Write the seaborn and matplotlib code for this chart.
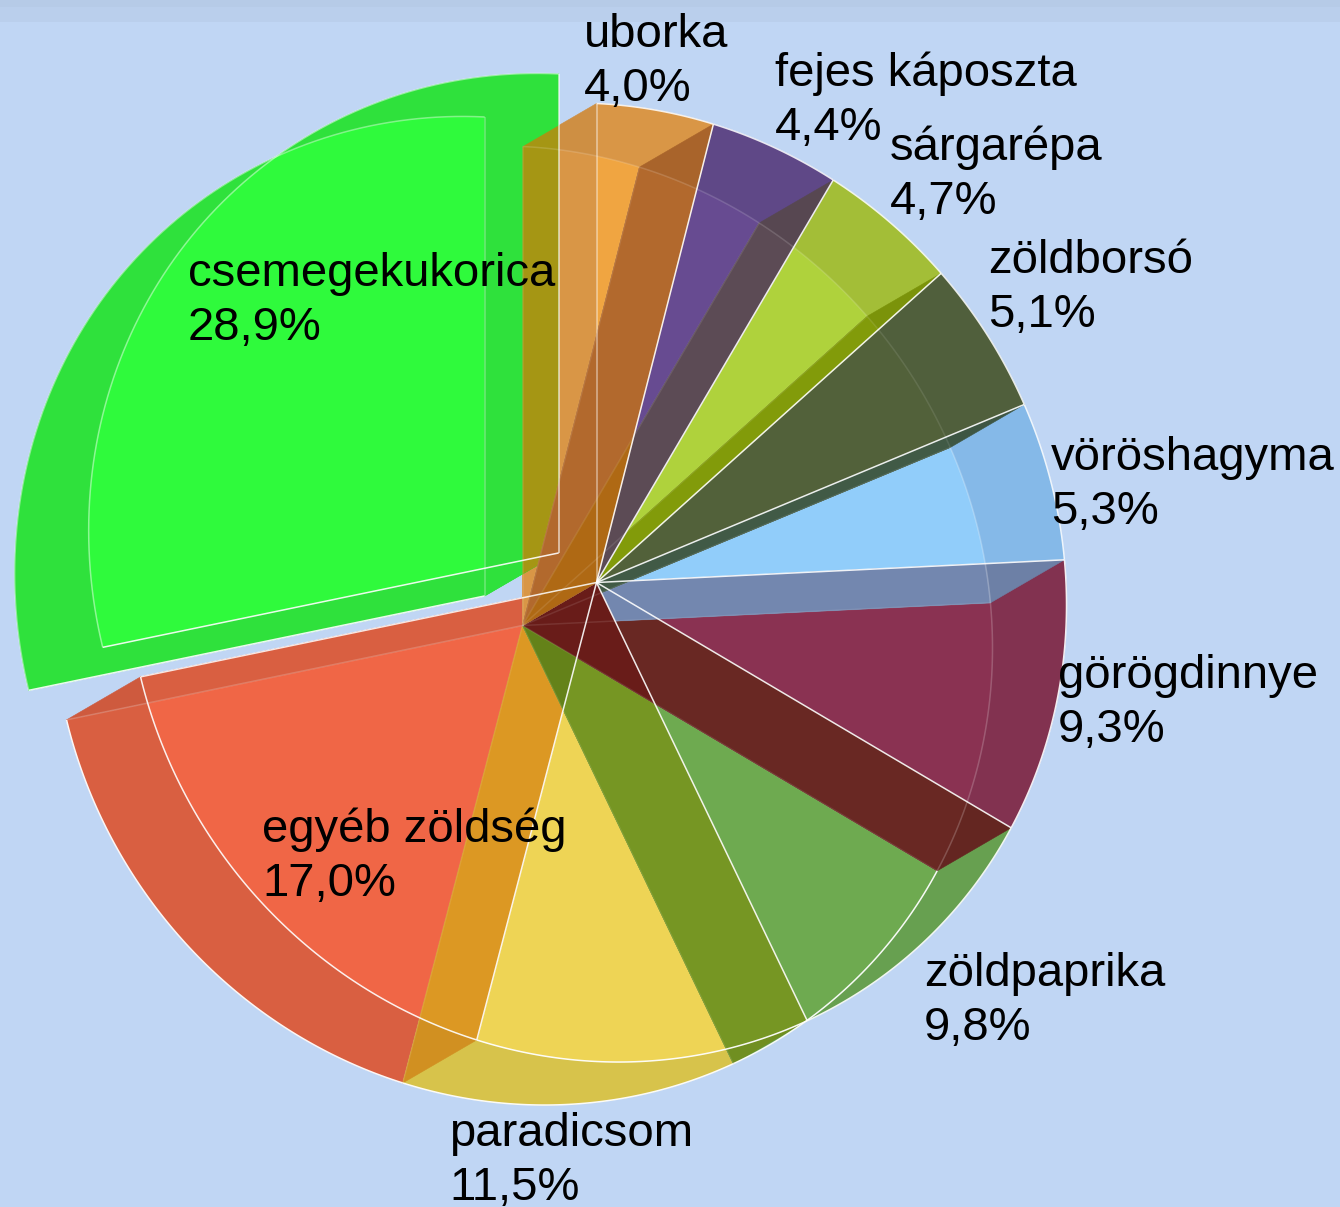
import numpy as np
import matplotlib
matplotlib.use("Agg")
import matplotlib.pyplot as plt
from matplotlib.patches import Polygon
from matplotlib.path import Path
import seaborn as sns

# ---- data: slices run counter-clockwise from 12 o'clock
names = ["csemegekukorica", "egyéb zöldség", "paradicsom", "zöldpaprika", "görögdinnye",
         "vöröshagyma", "zöldborsó", "sárgarépa", "fejes káposzta", "uborka"]
shares = [28.9, 17.0, 11.5, 9.8, 9.3, 5.3, 5.1, 4.7, 4.4, 4.0]

# ---- styles
face_rgb = [(47,250,60),(240,102,70),(238,212,85),(110,170,80),(138,50,82),
            (145,205,250),(82,97,58),(175,210,60),(103,75,145),(240,165,65)]
rim_rgb = [(47,225,60),(217,95,65),(215,195,75),(103,160,80),(130,50,80),
           (133,185,232),(80,95,60),(163,190,55),(95,72,135),(217,150,70)]
# wall at the END of each slice (index i: between slice i and i+1); last is uboarka/green at 12 o'clock
wall_rgb = [(217,95,65),(220,152,35),(118,150,35),(105,40,35),(115,135,175),
            (65,90,70),(130,155,10),(92,75,85),(178,105,45),(217,150,70)]
label_xy = [(188,286),(262,842),(449,1146),(924,986),(1058,688),
            (1051,470),(988,273),(890,160),(775,86),(584,47)]
b_arc_alpha = [0.4,0.95,0.95,0.95,0.2,0.25,0.1,0.15,0.15,0.15]
a_arc_alpha = [0.45,0.9,0.95,0.9,0.9,0.85,0.85,0.85,0.85,0.85]
LINE_GAP = 54

def c(rgb):
    return tuple(v/255 for v in rgb)

sns.set_theme(style="white")
plt.rcParams["font.family"] = ["Liberation Sans", "DejaVu Sans"]
faces = sns.color_palette([c(v) for v in face_rgb])
rims = sns.color_palette([c(v) for v in rim_rgb])
walls = sns.color_palette([c(v) for v in wall_rgb])

fig = plt.figure(figsize=(13.4, 12.07), dpi=100, facecolor=c((192,214,244)))
ax = fig.add_axes([0, 0, 1, 1])
ax.set_xlim(0, 1340); ax.set_ylim(1207, 0); ax.axis("off")
ax.axhspan(0, 7, color=c((182,203,231)), lw=0, zorder=0)
ax.axhspan(7, 22, color=c((186,207,236)), lw=0, zorder=0)

CA = np.array([596.5, 582.5])
CB = np.array([522.5, 625.5])
RX, RY, SHEAR = 470.0, 479.0, 22.5
EXPLODE = 48.0

def pt(center, t):
    t = np.asarray(t, float)
    return np.column_stack([center[0] + RX*np.cos(t),
                            center[1] - RY*np.sin(t) + SHEAR*np.cos(t)])

def sector(center, t0, t1):
    ts = np.linspace(t0, t1, 90)
    return np.vstack([center, pt(center, ts)])

def fill(poly, color, z, clip=None):
    p = Polygon(poly, closed=True, facecolor=color, edgecolor=color, lw=0.4, zorder=z)
    ax.add_patch(p)
    if clip is not None:
        p.set_clip_path(Polygon(clip, closed=True, transform=ax.transData))
    return p

def wall_poly(ca, cb, t):
    return np.vstack([ca, pt(ca, [t]), pt(cb, [t]), cb])

def lens(ca, cb):
    ts = np.linspace(0, 2*np.pi, 720, endpoint=False)
    pa, pb = pt(ca, ts), pt(cb, ts)
    keep = np.vstack([pa[Path(pb).contains_points(pa)], pb[Path(pa).contains_points(pb)]])
    mid = (ca + cb)/2
    order = np.argsort(np.arctan2(keep[:,1]-mid[1], keep[:,0]-mid[0]))
    return keep[order]

edges = np.pi/2 + np.radians(np.cumsum([0] + shares) * 3.6)
mid0 = (edges[0] + edges[1]) / 2
off = EXPLODE*np.array([np.cos(mid0), -np.sin(mid0)])
GA, GB = CA + off, CB + off
LENS = lens(CA, CB)

def shade(col, k=0.95):
    return tuple(v*k for v in col)

# non-exploded slice faces
for i in range(1, 10):
    fill(sector(CA, edges[i], edges[i+1]), rims[i], 2)
    fill(sector(CB, edges[i], edges[i+1]), rims[i], 2)
    fill(sector(CA, edges[i], edges[i+1]), faces[i], 3, clip=sector(CB, edges[i], edges[i+1]))

def wall(k, z):
    poly = wall_poly(CA, CB, edges[k+1])
    fill(poly, shade(walls[k]), z)
    fill(poly, walls[k], z+0.1, clip=LENS)
    return poly

polys = {}
for z, k in enumerate([1, 2, 3, 4, 5, 6]):
    polys[k] = wall(k, 4+z*0.2)
fill(polys[1], c((100,130,25)), 5.25, clip=polys[2])
fill(polys[2], c((105,28,25)), 5.45, clip=polys[3])
polys[0] = wall(0, 6)
polys[9] = wall(9, 6.2)

# exploded slice
fill(sector(GA, edges[0], edges[1]), rims[0], 7)
fill(sector(GB, edges[0], edges[1]), rims[0], 7)
fill(sector(GA, edges[0], edges[1]), faces[0], 7.1, clip=sector(GB, edges[0], edges[1]))
g_wall0 = wall_poly(GA, GB, edges[0])
g_wall1 = wall_poly(GA, GB, edges[1])
fill(g_wall0, rims[0], 7.2)
fill(g_wall1, rims[0], 7.2)
fill(g_wall0, c((165,150,20)), 7.3, clip=polys[9])

polys[7] = wall(7, 8)
polys[8] = wall(8, 8.2)
fill(polys[7], c((175,105,20)), 8.4, clip=polys[8])

# outlines
def arc(center, t0, t1, alpha, lw=1.1):
    xy = pt(center, np.linspace(t0, t1, 90))
    ax.plot(xy[:,0], xy[:,1], color="white", alpha=alpha, lw=lw, zorder=9, solid_capstyle="butt")

def spoke(center, t, alpha, lw=1.1):
    xy = np.vstack([center, pt(center, [t])])
    ax.plot(xy[:,0], xy[:,1], color="white", alpha=alpha, lw=lw, zorder=9.2, solid_capstyle="butt")

for i in range(10):
    ca, cb = (GA, GB) if i == 0 else (CA, CB)
    arc(ca, edges[i], edges[i+1], a_arc_alpha[i])
    arc(cb, edges[i], edges[i+1], b_arc_alpha[i])
for i in range(1, 10):
    spoke(CA, edges[i+1], 0.9 if i != 9 else 0.5)
    spoke(CB, edges[i+1], 0.1)
spoke(CA, edges[1], 0.85)
spoke(CB, edges[1], 0.2)
spoke(GA, edges[0], 0.7)
spoke(GA, edges[1], 0.9)
spoke(GB, edges[0], 0.3)
spoke(GB, edges[1], 0.9)

# labels: the baseline of the last of the two lines anchors each text
for name, val, (x, y) in zip(names, shares, label_xy):
    txt = f"{name}\n{val:.1f}".replace(".", ",") + "%"
    ax.text(x, y + LINE_GAP, txt, fontsize=34, color="black", ha="left", va="baseline",
            linespacing=1.29, zorder=12)

fig.savefig("out.png", dpi=100, facecolor=fig.get_facecolor())
